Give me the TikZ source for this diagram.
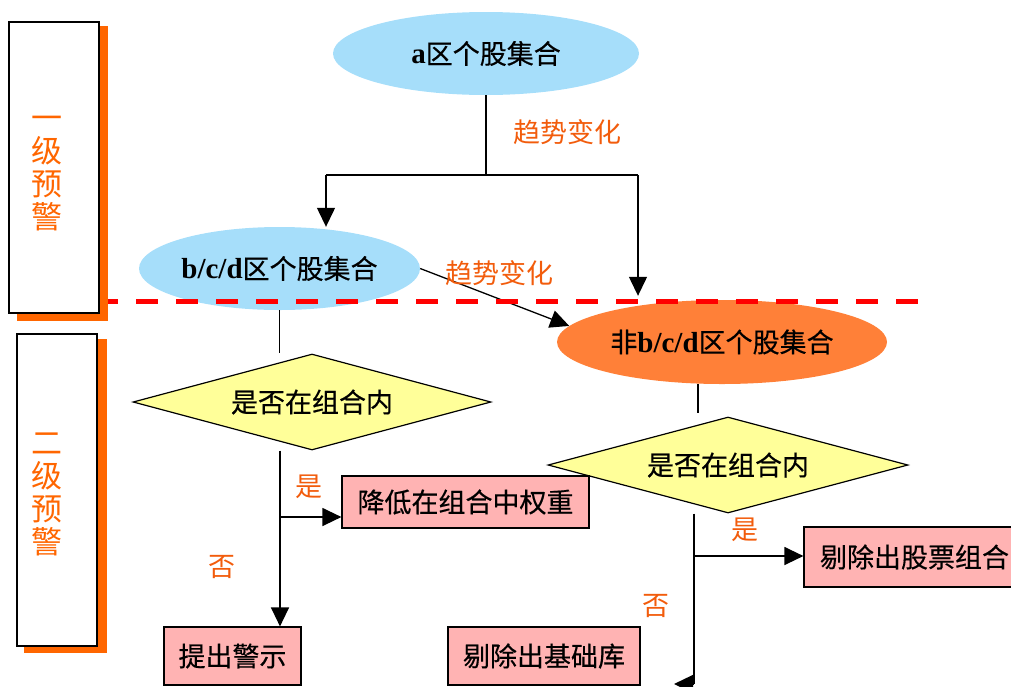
\documentclass[tikz,border=0pt]{standalone}
\usepackage{fontspec}
\setmainfont{Noto Sans CJK SC}
\newfontfamily\heavyfont{Noto Sans CJK SC}[FakeBold=0.4]
\newfontfamily\latfont{Liberation Serif}
\usepackage{tikz}
\usetikzlibrary{arrows.meta}
\usetikzlibrary{shapes.geometric}
\definecolor{setblue}{RGB}{166,222,250}
\definecolor{setorange}{RGB}{255,128,56}
\definecolor{askyellow}{RGB}{255,255,153}
\definecolor{actpink}{RGB}{255,179,179}
\definecolor{warnorange}{RGB}{255,102,0}
\definecolor{lblorange}{RGB}{242,92,12}
\newcommand{\lat}[1]{{\latfont\bfseries\fontsize{29}{30}\selectfont #1}}
\newcommand{\bigtxt}{\heavyfont\fontsize{27}{30}\selectfont}

\tikzset{
 arr/.style={-{Triangle[width=18pt,length=19pt]}},
 line/.style={line width=1.3pt},
 setell/.style={ellipse, inner sep=0pt, font=\bigtxt},
 ask/.style={diamond, aspect=3.7, draw, line width=1.2pt, fill=askyellow, inner sep=0pt, font=\bigtxt},
 act/.style={rectangle, draw, line width=1.2pt, fill=actpink, inner sep=0pt, font=\bigtxt},
 lvlbox/.style={rectangle, draw, line width=1.6pt, fill=white},
 lvlshadow/.style={fill=warnorange},
 lvltxt/.style={align=center, text=warnorange, font=\fontsize{31}{33}\selectfont},
 lbl/.style={text=lblorange, font=\fontsize{27}{30}\selectfont}
}

\begin{document}
\begin{tikzpicture}[x=1pt,y=-1pt]
 \useasboundingbox (0,0) rectangle (1011,686);

 % warning levels on the left
 \fill[lvlshadow] (17,26) rectangle (108,321);
 \node[lvlbox, minimum width=90pt, minimum height=291pt] (lvlone) at (54,167.5) {};
 \node[lvltxt] (lvlonetxt) at (47,174) {一\\级\\预\\警};
 \fill[lvlshadow] (24,339) rectangle (107,653);
 \node[lvlbox, minimum width=80pt, minimum height=312pt] (lvltwo) at (57,490) {};
 \node[lvltxt] (lvltwotxt) at (47,494) {二\\级\\预\\警};

 % stock sets
 \node[setell, fill=setblue, minimum width=306pt, minimum height=83pt] (aset) at (486,53.5) {\lat{a}区个股集合};
 \node[setell, fill=setblue, minimum width=281pt, minimum height=83pt] (bcdset) at (279.5,268.5) {\lat{b/c/d}区个股集合};
 \node[setell, fill=setorange, minimum width=330pt, minimum height=84pt] (nonset) at (722,342) {非\lat{b/c/d}区个股集合};

 % checks
 \node[ask, minimum width=358pt, minimum height=96pt] (askone) at (312,402) {是否在组合内};
 \node[ask, minimum width=360pt, minimum height=96pt] (asktwo) at (728,465) {是否在组合内};

 % actions
 \node[act, minimum width=247pt, minimum height=52pt] (lower) at (465.5,502) {降低在组合中权重};
 \node[act, minimum width=137pt, minimum height=58pt] (warn) at (232.5,656) {提出警示};
 \node[act, minimum width=192pt, minimum height=58pt] (basis) at (544,656) {剔除出基础库};
 \node[act, minimum width=221pt, minimum height=60pt] (remove) at (914.5,557) {剔除出股票组合};

 % trend change from a
 \coordinate (lbend) at (326,175);
 \coordinate (rbend) at (638,175);
 \draw[line] (aset.south) -- (aset.south |- lbend);
 \draw[line] (lbend) -- (rbend);
 \draw[line,arr] (lbend) -- (lbend |- bcdset.north);
 \draw[line,arr,shorten >=4pt] (rbend) -- (rbend |- nonset.north);
 \node[lbl] (trendone) at (567,132) {趋势变化};

 % trend change from b/c/d
 \draw[line,arr] (bcdset.east) -- (nonset.174);
 \node[lbl] (trendtwo) at (499,273) {趋势变化};

 % first check
 \coordinate (yesone) at (280,517);
 \draw[line] (bcdset.south) -- (bcdset.south |- askone.north);
 \draw[line,arr] (yesone |- askone.south) -- (yesone |- warn.north);
 \draw[line,arr] (yesone) -- (yesone -| lower.west);
 \node[lbl] (yesonetxt) at (309,487) {是};
 \node[lbl] (noonetxt) at (222,567) {否};

 % second check
 \coordinate (topline) at (698,0);
 \coordinate (yestwo) at (694,556);
 \coordinate (downend) at (694,684);
 \coordinate (leftend) at (674,684);
 \draw[line] (topline |- nonset.south) -- ([yshift=3pt]topline |- asktwo.north);
 \draw[line] (yestwo |- asktwo.south) -- (downend);
 \draw[line,arr] (downend) -- (leftend);
 \draw[line,arr] (yestwo) -- (yestwo -| remove.west);
 \node[lbl] (yestwotxt) at (745,530) {是};
 \node[lbl] (notwotxt) at (656,606) {否};

 % boundary between the two levels
 \draw[red, line width=5pt, dash pattern=on 22pt off 18pt, dash phase=12pt] (108,301.5) -- (918,301.5);
\end{tikzpicture}
\end{document}
